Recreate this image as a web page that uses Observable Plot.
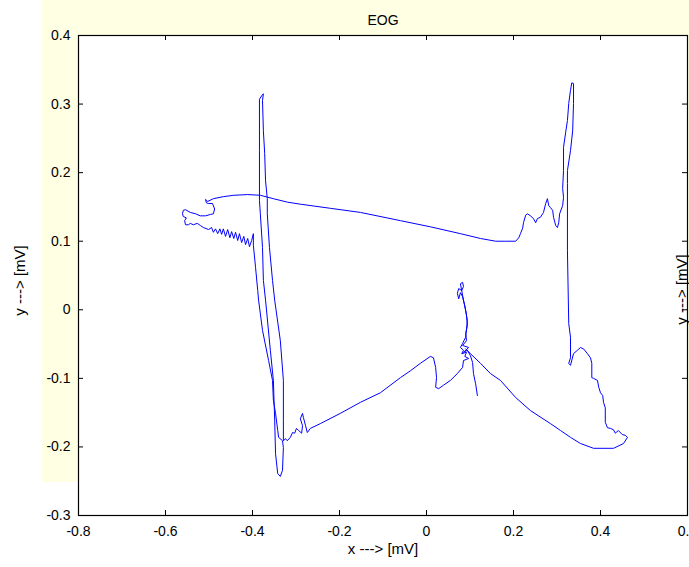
<!DOCTYPE html>
<html><head><meta charset="utf-8">
<script src="https://cdn.jsdelivr.net/npm/d3@7"></script>
<script src="https://cdn.jsdelivr.net/npm/@observablehq/plot@0.6"></script>
<style>
html,body{margin:0;padding:0;background:#fff;overflow:hidden;}
#wrap{position:relative;width:689px;height:567px;overflow:hidden;}
#bg{position:absolute;left:42px;top:0;width:647px;height:482px;background:#ffffe3;}
#chart{position:absolute;left:0;top:0;}
</style></head><body>
<div id="wrap"><div id="bg"></div><div id="chart"></div></div>
<script>
const title = "EOG";
const xLabel = "x ---> [mV]";
const yLabel = "y ---> [mV]";
const xTicks = [-0.8, -0.6, -0.4, -0.2, 0, 0.2, 0.4, 0.6];
const yTicks = [-0.3, -0.2, -0.1, 0, 0.1, 0.2, 0.3, 0.4];

const eogX = [0.117,0.113,0.108,0.106,0.101,0.094,0.085,0.097,0.083,0.092,0.090,0.094,0.092,0.088,0.083,0.078,0.074,0.071,0.074,0.081,0.085,0.083,0.078,0.085,0.090,0.094,0.090,0.083,0.078,0.085,0.081,0.092,0.088,0.097,0.085,0.083,0.071,0.055,0.039,0.028,0.021,0.023,0.021,0.016,0.009,-0.014,-0.037,-0.060,-0.106,-0.152,-0.198,-0.244,-0.267,-0.274,-0.278,-0.283,-0.285,-0.290,-0.285,-0.287,-0.294,-0.299,-0.303,-0.308,-0.313,-0.320,-0.324,-0.329,-0.329,-0.329,-0.336,-0.349,-0.354,-0.361,-0.366,-0.366,-0.370,-0.372,-0.375,-0.377,-0.375,-0.379,-0.384,-0.384,-0.384,-0.382,-0.377,-0.375,-0.370,-0.359,-0.352,-0.349,-0.347,-0.342,-0.336,-0.331,-0.329,-0.331,-0.340,-0.342,-0.347,-0.352,-0.354,-0.363,-0.377,-0.386,-0.388,-0.393,-0.398,-0.398,-0.402,-0.407,-0.411,-0.416,-0.420,-0.425,-0.430,-0.434,-0.439,-0.443,-0.448,-0.452,-0.457,-0.462,-0.467,-0.471,-0.475,-0.480,-0.485,-0.490,-0.494,-0.501,-0.513,-0.520,-0.527,-0.536,-0.543,-0.547,-0.554,-0.556,-0.552,-0.559,-0.561,-0.559,-0.554,-0.543,-0.531,-0.520,-0.508,-0.497,-0.490,-0.487,-0.492,-0.501,-0.506,-0.508,-0.503,-0.490,-0.467,-0.443,-0.411,-0.382,-0.352,-0.320,-0.290,-0.221,-0.152,-0.060,0.009,0.078,0.124,0.159,0.182,0.205,0.212,0.216,0.221,0.223,0.228,0.232,0.239,0.246,0.251,0.255,0.262,0.267,0.269,0.274,0.278,0.281,0.285,0.290,0.292,0.297,0.301,0.304,0.306,0.313,0.315,0.313,0.315,0.315,0.320,0.324,0.327,0.331,0.334,0.338,0.338,0.336,0.331,0.324,0.324,0.324,0.327,0.331,0.331,0.327,0.331,0.338,0.347,0.354,0.361,0.370,0.377,0.380,0.380,0.384,0.393,0.396,0.400,0.405,0.407,0.411,0.411,0.416,0.423,0.430,0.434,0.441,0.450,0.457,0.462,0.453,0.430,0.384,0.354,0.331,0.308,0.285,0.239,0.205,0.170,0.147,0.124,0.101,0.090];
const eogY = [-0.125,-0.108,-0.093,-0.077,-0.067,-0.059,-0.062,-0.055,-0.052,-0.045,-0.035,-0.023,-0.008,0.006,0.019,0.025,0.016,0.024,0.031,0.028,0.034,0.040,0.038,0.014,-0.001,-0.016,-0.040,-0.049,-0.055,-0.059,-0.064,-0.062,-0.068,-0.071,-0.074,-0.084,-0.093,-0.103,-0.110,-0.115,-0.113,-0.099,-0.084,-0.070,-0.068,-0.078,-0.089,-0.099,-0.121,-0.135,-0.151,-0.166,-0.173,-0.179,-0.169,-0.157,-0.151,-0.159,-0.169,-0.180,-0.176,-0.173,-0.180,-0.179,-0.186,-0.191,-0.188,-0.191,-0.161,-0.103,-0.045,0.014,0.043,0.091,0.140,0.162,0.188,0.228,0.261,0.305,0.315,0.312,0.307,0.232,0.159,0.140,0.091,0.043,0.014,-0.059,-0.103,-0.161,-0.210,-0.239,-0.243,-0.234,-0.201,-0.191,-0.186,-0.176,-0.151,-0.132,-0.103,-0.074,-0.030,0.014,0.028,0.062,0.094,0.111,0.101,0.092,0.104,0.095,0.107,0.098,0.111,0.101,0.113,0.104,0.114,0.105,0.117,0.107,0.118,0.110,0.118,0.111,0.118,0.113,0.120,0.117,0.120,0.123,0.126,0.124,0.126,0.124,0.124,0.130,0.134,0.136,0.140,0.145,0.146,0.142,0.140,0.137,0.137,0.139,0.140,0.147,0.155,0.155,0.156,0.161,0.158,0.162,0.165,0.167,0.168,0.167,0.162,0.157,0.154,0.148,0.142,0.130,0.121,0.111,0.104,0.100,0.100,0.100,0.105,0.111,0.119,0.127,0.138,0.140,0.137,0.133,0.127,0.133,0.135,0.140,0.142,0.155,0.162,0.152,0.149,0.145,0.135,0.123,0.120,0.127,0.140,0.152,0.164,0.177,0.203,0.237,0.259,0.276,0.301,0.320,0.331,0.330,0.301,0.261,0.232,0.203,0.184,0.086,-0.020,-0.040,-0.070,-0.078,-0.081,-0.064,-0.059,-0.055,-0.057,-0.064,-0.070,-0.078,-0.099,-0.100,-0.103,-0.113,-0.121,-0.125,-0.135,-0.143,-0.164,-0.172,-0.173,-0.175,-0.180,-0.176,-0.182,-0.183,-0.186,-0.195,-0.202,-0.202,-0.195,-0.186,-0.176,-0.166,-0.147,-0.128,-0.103,-0.093,-0.078,-0.064,-0.057];

const trace = eogX.map((x, i) => ({x, y: eogY[i]}));
const fmt = d => String(d);
const font = "'Liberation Sans', Arial, Helvetica, sans-serif";

const chart = Plot.plot({
  width: 689,
  height: 567,
  marginLeft: 78,
  marginRight: 2,
  marginTop: 35,
  marginBottom: 52,
  x: {domain: [-0.8, 0.6]},
  y: {domain: [-0.3, 0.4]},
  style: {background: "transparent", color: "black", fontFamily: font, fontSize: "14px"},
  marks: [
    Plot.frame({fill: "white", stroke: null}),
    Plot.line(trace, {x: "x", y: "y", stroke: "#0000ff", strokeWidth: 1}),
    Plot.tickX(xTicks, {x: d => d, insetTop: 475, stroke: "black"}),
    Plot.tickX(xTicks, {x: d => d, insetBottom: 475, stroke: "black"}),
    Plot.tickY(yTicks, {y: d => d, insetRight: 604, stroke: "black"}),
    Plot.tickY(yTicks, {y: d => d, insetLeft: 604, stroke: "black"}),
    Plot.frame({stroke: "black", strokeWidth: 1.2}),
    Plot.axisX(xTicks, {tickSize: 0, tickPadding: 11, tickFormat: fmt, fontSize: 14, label: null}),
    Plot.axisY(yTicks, {tickSize: 0, tickPadding: 8, tickFormat: fmt, fontSize: 14, label: null}),
    Plot.text([title], {text: d => d, frameAnchor: "top", dy: -20, fontSize: 14}),
    Plot.text([xLabel], {text: d => d, frameAnchor: "bottom", dy: 38, fontSize: 15}),
    Plot.text([yLabel], {text: d => d, frameAnchor: "left", textAnchor: "middle", dx: -58, dy: 5, rotate: -90, fontSize: 15}),
    Plot.text([yLabel], {text: d => d, frameAnchor: "right", textAnchor: "middle", dx: -5, dy: 14, rotate: -90, fontSize: 15})
  ]
});
document.getElementById("chart").appendChild(chart);
</script>
</body></html>
